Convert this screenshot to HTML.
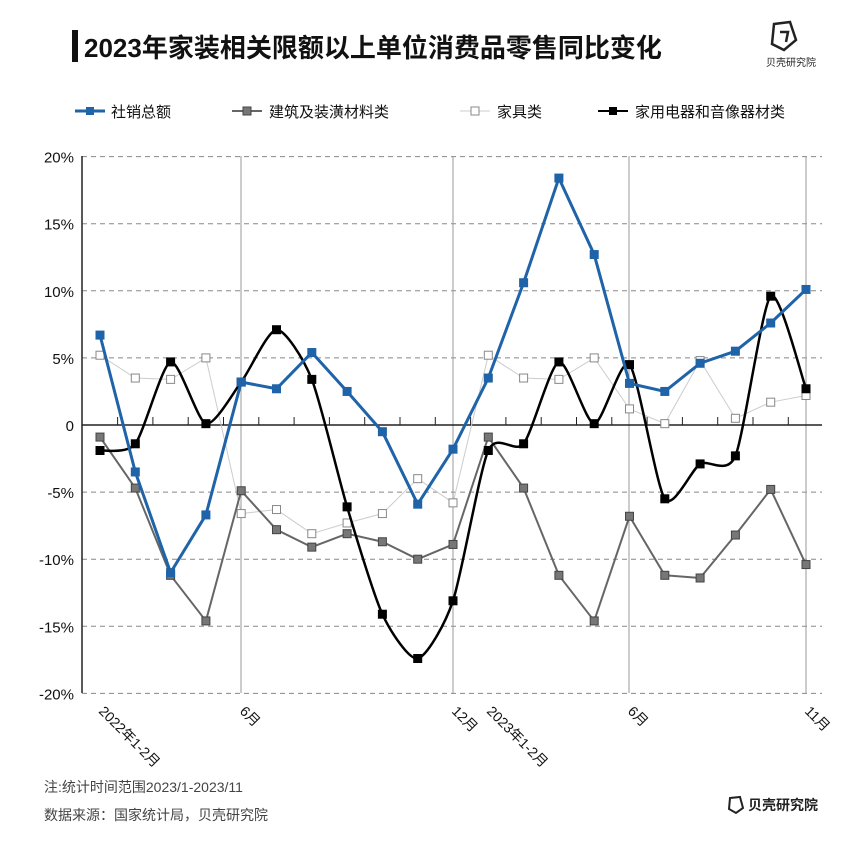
<!DOCTYPE html>
<html><head><meta charset="utf-8"><style>
body{margin:0;background:#fff;width:864px;height:844px;overflow:hidden;font-family:"Liberation Sans","Noto Sans CJK SC",sans-serif}
</style></head><body>
<svg id="s" width="864" height="844" xmlns="http://www.w3.org/2000/svg" font-family="Liberation Sans, Noto Sans CJK SC, sans-serif">
<rect x="72" y="30" width="6" height="32" fill="#111"/>
<text x="84" y="57" font-size="26" fill="#111" font-weight="bold">2023年家装相关限额以上单位消费品零售同比变化</text>
<g transform="translate(768,20)" fill="none" stroke="#222" stroke-width="2.5"><path d="M6 4 L22 2 L28 20 L16 30 L4 24 Z"/><path d="M12 12 L20 12 L18 22"/></g>
<text x="766" y="66" font-size="10" fill="#222">贝壳研究院</text>
<g font-size="15" fill="#111">
<line x1="75" y1="111" x2="105" y2="111" stroke="#1f63a8" stroke-width="3"/><rect x="86" y="107" width="8" height="8" fill="#1f63a8"/><text x="111" y="117">社销总额</text>
<line x1="232" y1="111" x2="262" y2="111" stroke="#666" stroke-width="2"/><rect x="243" y="107" width="8" height="8" fill="#777" stroke="#444"/><text x="269" y="117">建筑及装潢材料类</text>
<line x1="460" y1="111" x2="490" y2="111" stroke="#ccc" stroke-width="1"/><rect x="471" y="107" width="8" height="8" fill="#fff" stroke="#888"/><text x="497" y="117">家具类</text>
<line x1="598" y1="111" x2="628" y2="111" stroke="#000" stroke-width="2"/><rect x="609" y="107" width="8" height="8" fill="#000"/><text x="635" y="117">家用电器和音像器材类</text>
</g>
<g id="grid"></g>
<g id="series"></g>
<g font-size="14" fill="#444">
<text x="44" y="792">注:统计时间范围2023/1-2023/11</text>
<text x="44" y="820">数据来源：国家统计局，贝壳研究院</text>
</g>
<g transform="translate(728,796)" fill="none" stroke="#222" stroke-width="2"><path d="M2 2 L12 1 L15 12 L8 17 L1 13 Z"/></g>
<text x="748" y="810" font-size="14" fill="#222" font-weight="bold">贝壳研究院</text>
</svg>
<script>
const NS="http://www.w3.org/2000/svg";
const g=document.getElementById('grid'),se=document.getElementById('series');
function el(p,t,a,txt){const e=document.createElementNS(NS,t);for(const k in a)e.setAttribute(k,a[k]);if(txt)e.textContent=txt;p.appendChild(e);return e}
const X=i=>100+i*35.3, Y=v=>425-v*13.42;
for(let v=-20;v<=20;v+=5){ if(v!==0) el(g,'line',{x1:82,x2:822,y1:Y(v),y2:Y(v),stroke:'#888','stroke-dasharray':'5,4','stroke-width':1});
 el(g,'text',{x:74,y:Y(v)+6,'font-size':15,'text-anchor':'end',fill:'#111'},v===0?'0':v+'%');}
[241,453,629,806].forEach(x=>el(g,'line',{x1:x,x2:x,y1:156,y2:693,stroke:'#999','stroke-width':1}));
el(g,'line',{x1:82,x2:82,y1:156,y2:693,stroke:'#222','stroke-width':1.5});
el(g,'line',{x1:82,x2:822,y1:425,y2:425,stroke:'#222','stroke-width':1.5});
for(let i=0;i<20;i++){const x=X(i)+17.6;el(g,'line',{x1:x,x2:x,y1:417,y2:425,stroke:'#222'})}
[[100,'2022年1-2月'],[241,'6月'],[453,'12月'],[488,'2023年1-2月'],[629,'6月'],[806,'11月']].forEach(([x,t])=>{
 el(g,'text',{x:0,y:0,'font-size':14,fill:'#111',transform:`translate(${x-2},${712}) rotate(45)`},t)});
const D={
b:[6.7,-3.5,-11.0,-6.7,3.2,2.7,5.4,2.5,-0.5,-5.9,-1.8,3.5,10.6,18.4,12.7,3.1,2.5,4.6,5.5,7.6,10.1],
g:[-0.9,-4.7,-11.2,-14.6,-4.9,-7.8,-9.1,-8.1,-8.7,-10.0,-8.9,-0.9,-4.7,-11.2,-14.6,-6.8,-11.2,-11.4,-8.2,-4.8,-10.4],
f:[5.2,3.5,3.4,5.0,-6.6,-6.3,-8.1,-7.3,-6.6,-4.0,-5.8,5.2,3.5,3.4,5.0,1.2,0.1,4.8,0.5,1.7,2.2],
k:[-1.9,-1.4,4.7,0.1,3.2,7.1,3.4,-6.1,-14.1,-17.4,-13.1,-1.9,-1.4,4.7,0.1,4.5,-5.5,-2.9,-2.3,9.6,2.7]};
function smooth(p){let d=`M${p[0][0]},${p[0][1]}`;for(let i=0;i<p.length-1;i++){const p0=p[i-1]||p[i],p1=p[i],p2=p[i+1],p3=p[i+2]||p2;const t=0.12;
d+=` C${p1[0]+(p2[0]-p0[0])*t},${p1[1]+(p2[1]-p0[1])*t} ${p2[0]-(p3[0]-p1[0])*t},${p2[1]-(p3[1]-p1[1])*t} ${p2[0]},${p2[1]}`}return d}
function draw(arr,stroke,w,fill,mstroke,sm){const p=arr.map((v,i)=>[X(i),Y(v)]);
 el(se,'path',{d:sm?smooth(p):'M'+p.map(q=>q.join(',')).join(' L'),fill:'none',stroke:stroke,'stroke-width':w,'stroke-linejoin':'round'});
 p.forEach(q=>el(se,'rect',{x:q[0]-4,y:q[1]-4,width:8,height:8,fill:fill,stroke:mstroke,'stroke-width':1}));}
draw(D.f,'#ccc',1,'#fff','#888',false);
draw(D.g,'#666',2,'#777','#444',false);
draw(D.k,'#000',2.5,'#000','#000',true);
draw(D.b,'#1f63a8',3,'#1f63a8','#1f63a8',false);
</script>
</body></html>
